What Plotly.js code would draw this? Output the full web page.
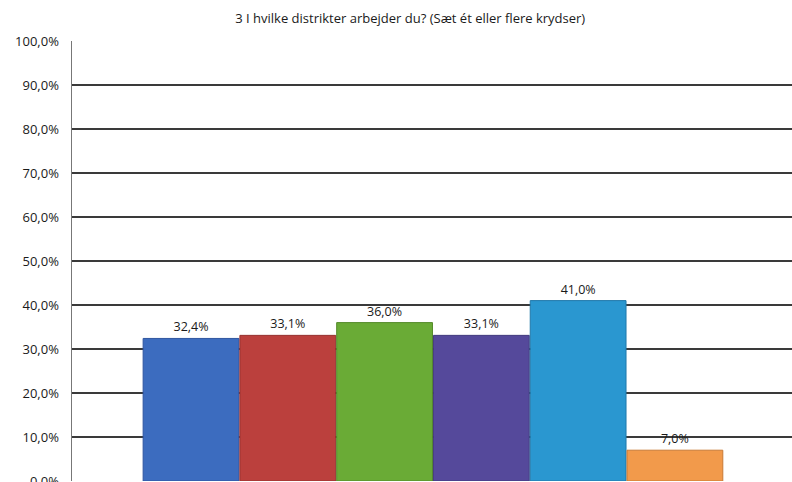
<!DOCTYPE html>
<html>
<head>
<meta charset="utf-8">
<script src="https://cdn.plot.ly/plotly-3.0.1.min.js"></script>
<style>html,body{margin:0;padding:0;background:#fff;}#chart{width:792px;height:482px;}</style>
</head>
<body>
<div id="chart"></div>
<script>
var categories = ['1', '2', '3', '4', '5', '6'];
var values = [32.4, 33.1, 36.0, 33.1, 41.0, 7.0];
var colors = ['#3c6cbf', '#bb403d', '#6aab36', '#55499b', '#2a97d0', '#f29a4b'];
var lineColors = ['#2f55a0', '#963230', '#548a2a', '#433a7e', '#2079aa', '#c97a35'];
var yTicks = [0, 10, 20, 30, 40, 50, 60, 70, 80, 90, 100];
var yTickText = ['0,0%', '10,0%', '20,0%', '30,0%', '40,0%', '50,0%', '60,0%', '70,0%', '80,0%', '90,0%', '100,0%'];

var fontFam = 'Open Sans, Noto Sans, sans-serif';

var trace = {
  type: 'bar',
  x: categories,
  y: values,
  marker: {color: colors, line: {color: lineColors, width: 1}},
  texttemplate: '%{y:.1f}%',
  textposition: 'outside',
  cliponaxis: false,
  textfont: {family: fontFam, size: 12.5, color: '#1a1a1a', weight: 500},
  hoverinfo: 'none'
};

var layout = {
  width: 792, height: 482,
  margin: {l: 72, r: 0, t: 41, b: 1},
  paper_bgcolor: '#fff', plot_bgcolor: '#fff',
  separators: ',.',
  showlegend: false,
  bargap: 0.01,
  title: {
    text: '3 I hvilke distrikter arbejder du? (Sæt ét eller flere krydser)',
    font: {family: fontFam, size: 13, color: '#1a1a1a', weight: 500},
    x: 0.518, xref: 'container', xanchor: 'center',
    y: 0.962, yref: 'container', yanchor: 'middle'
  },
  xaxis: {
    type: 'category',
    range: [-1.23, 6.21],
    showticklabels: false,
    showgrid: false,
    zeroline: false,
    showline: false,
    ticks: ''
  },
  yaxis: {
    range: [0, 100],
    tickmode: 'array',
    tickvals: yTicks,
    ticktext: yTickText,
    ticklabeloverflow: 'allow',
    showgrid: true,
    gridcolor: '#3a3a3a',
    gridwidth: 1.5,
    zeroline: false,
    showline: true,
    linecolor: '#777',
    linewidth: 1.5,
    ticks: '',
    ticklabelstandoff: 9,
    tickfont: {family: fontFam, size: 13, color: '#1a1a1a', weight: 500}
  }
};

Plotly.newPlot('chart', [trace], layout, {displayModeBar: false, staticPlot: true});
</script>
</body>
</html>
